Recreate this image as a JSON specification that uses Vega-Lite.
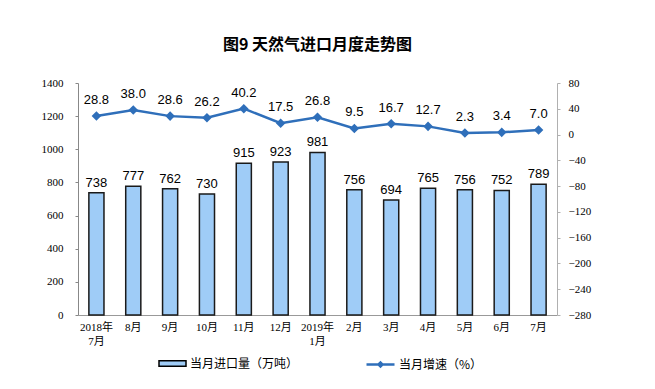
{
  "$schema": "https://vega.github.io/schema/vega-lite/v6.json",
  "width": 479,
  "height": 232,
  "autosize": "none",
  "padding": {"left": 78, "top": 83, "right": 98, "bottom": 74},
  "background": "white",
  "title": {
    "text": "图9 天然气进口月度走势图",
    "font": "Noto Sans CJK SC",
    "fontSize": 16,
    "fontWeight": "bold",
    "color": "#000",
    "anchor": "middle",
    "offset": 24
  },
  "config": {"view": {"stroke": null}, "axis": {"grid": false}},
  "data": {
    "values": [
      {"k": "2018-07", "v": 738, "g": 28.8},
      {"k": "2018-08", "v": 777, "g": 38.0},
      {"k": "2018-09", "v": 762, "g": 28.6},
      {"k": "2018-10", "v": 730, "g": 26.2},
      {"k": "2018-11", "v": 915, "g": 40.2},
      {"k": "2018-12", "v": 923, "g": 17.5},
      {"k": "2019-01", "v": 981, "g": 26.8},
      {"k": "2019-02", "v": 756, "g": 9.5},
      {"k": "2019-03", "v": 694, "g": 16.7},
      {"k": "2019-04", "v": 765, "g": 12.7},
      {"k": "2019-05", "v": 756, "g": 2.3},
      {"k": "2019-06", "v": 752, "g": 3.4},
      {"k": "2019-07", "v": 789, "g": 7.0}
    ]
  },
  "encoding": {
    "x": {
      "field": "k",
      "type": "ordinal",
      "sort": null,
      "scale": {"paddingInner": 0.59, "paddingOuter": 0.295},
      "axis": {
        "title": null,
        "labelAngle": 0,
        "labelExpr": "datum.value == '2018-07' ? ['2018年','7月'] : datum.value == '2019-01' ? ['2019年','1月'] : toNumber(slice(datum.value, 5)) + '月'",
        "labelFont": "Liberation Serif, Noto Sans CJK SC",
        "labelFontSize": 11,
        "labelColor": "#000",
        "labelLineHeight": 14,
        "labelBaseline": "top",
        "labelPadding": 6,
        "ticks": false,
        "domainColor": "#999"
      }
    }
  },
  "layer": [
    {
      "encoding": {
        "y": {
          "field": "v",
          "type": "quantitative",
          "scale": {"domain": [0, 1400], "nice": false},
          "axis": {
            "orient": "left",
            "title": null,
            "values": [0, 200, 400, 600, 800, 1000, 1200, 1400],
            "format": "d",
            "labelFont": "Liberation Serif",
            "labelFontSize": 11,
            "labelColor": "#000",
            "labelFlush": false,
            "domainColor": "#888",
            "tickColor": "#888",
            "tickSize": 3,
            "labelPadding": 12
          }
        }
      },
      "layer": [
        {
          "mark": {"type": "bar", "stroke": "#1a1a1a", "strokeWidth": 1.5},
          "encoding": {
            "fill": {
              "datum": "当月进口量（万吨）",
              "scale": {"range": ["#9fccf7"]},
              "legend": {
                "title": null,
                "orient": "none",
                "legendX": 80,
                "legendY": 266,
                "padding": 0,
                "symbolType": "M-1,-0.2H1V0.2H-1Z",
                "symbolSize": 729,
                "symbolStrokeColor": "#000",
                "symbolStrokeWidth": 1.5,
                "labelOffset": 3,
                "labelFont": "Noto Sans CJK SC",
                "labelFontSize": 12,
                "labelColor": "#000"
              }
            }
          }
        },
        {
          "mark": {"type": "text", "font": "Liberation Sans", "fontSize": 13, "color": "#000", "baseline": "alphabetic", "dy": -6},
          "encoding": {
            "text": {"field": "v", "type": "quantitative"}
          }
        }
      ]
    },
    {
      "encoding": {
        "y": {
          "field": "g",
          "type": "quantitative",
          "scale": {"domain": [-280, 80], "nice": false},
          "axis": {
            "orient": "right",
            "title": null,
            "values": [-280, -240, -200, -160, -120, -80, -40, 0, 40, 80],
            "format": "d",
            "labelFont": "Liberation Serif",
            "labelFontSize": 11,
            "labelColor": "#000",
            "labelFlush": false,
            "domainColor": "#b0b0b0",
            "tickColor": "#b0b0b0",
            "tickSize": 3,
            "labelPadding": 8
          }
        }
      },
      "layer": [
        {
          "mark": {
            "type": "line",
            "strokeWidth": 2.5,
            "point": {"shape": "diamond", "size": 45, "filled": true, "color": "#2f6fba"}
          },
          "encoding": {
            "stroke": {
              "datum": "当月增速（%）",
              "scale": {"range": ["#2f6fba"]},
              "legend": {
                "title": null,
                "orient": "none",
                "legendX": 287,
                "legendY": 266,
                "padding": 0,
                "symbolType": "M-1,0H1M-0.14,0L0,-0.14L0.14,0L0,0.14Z",
                "symbolSize": 784,
                "symbolStrokeWidth": 2.5,
                "labelOffset": 3,
                "labelFont": "Noto Sans CJK SC",
                "labelFontSize": 12,
                "labelColor": "#000"
              }
            }
          }
        },
        {
          "mark": {"type": "text", "font": "Liberation Sans", "fontSize": 13, "color": "#000", "baseline": "alphabetic", "dy": -12},
          "encoding": {
            "text": {"field": "g", "type": "quantitative", "format": ".1f"}
          }
        }
      ]
    }
  ],
  "resolve": {"scale": {"y": "independent"}}
}
